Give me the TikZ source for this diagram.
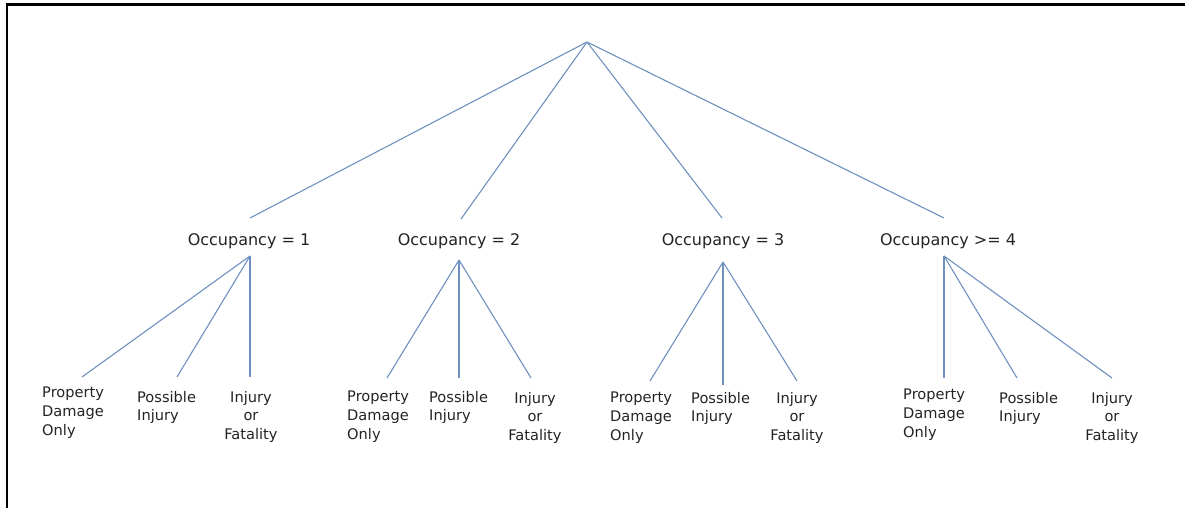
\documentclass[tikz,border=0pt]{standalone}
\usepackage{fontspec}
\setmainfont{DejaVu Sans}
\definecolor{linec}{RGB}{110,145,190}
\definecolor{txt}{RGB}{35,35,35}
\begin{document}
\begin{tikzpicture}[x=1pt,y=-1pt,
  branch/.style={draw=linec, line width=1.1pt},
  occ/.style={font=\fontsize{16}{19}\selectfont, text=txt, inner sep=0pt, anchor=base},
  leafl/.style={font=\fontsize{14.6}{18.7}\selectfont, text=txt, inner sep=0pt, align=left, anchor=north west},
  leafc/.style={font=\fontsize{14.6}{18.7}\selectfont, text=txt, inner sep=0pt, align=center, anchor=north},
  frame/.style={draw=black, line width=2.2pt}]
\useasboundingbox (0,0) rectangle (1185,508);
\draw[frame] (7,510) -- (7,4.5) -- (1187,4.5);

% apex points
\coordinate (root) at (587,42);
\coordinate (o1t) at (250,218);
\coordinate (o2t) at (461,219);
\coordinate (o3t) at (722,218);
\coordinate (o4t) at (944,218);
\coordinate (o1b) at (250,256);
\coordinate (o2b) at (459,260);
\coordinate (o3b) at (723,262);
\coordinate (o4b) at (944,256);
% leaf ends
\coordinate (a1) at (82,377);
\coordinate (a2) at (177,377);
\coordinate (a3) at (250,377);
\coordinate (b1) at (387,378);
\coordinate (b2) at (459,378);
\coordinate (b3) at (531,378);
\coordinate (c1) at (650,381);
\coordinate (c2) at (723,385);
\coordinate (c3) at (797,381);
\coordinate (d1) at (944,378);
\coordinate (d2) at (1017,378);
\coordinate (d3) at (1112,378);

% labels
\node[occ] (occ1) at (249,245) {Occupancy = 1};
\node[occ] (occ2) at (459,245) {Occupancy = 2};
\node[occ] (occ3) at (723,245) {Occupancy = 3};
\node[occ] (occ4) at (948,245) {Occupancy >= 4};

\node[leafl] (l1a) at (42,387) {Property\\Damage\\Only};
\node[leafl] (l1b) at (137,391) {Possible\\Injury};
\node[leafc] (l1c) at (251,391) {Injury\\or\\Fatality};
\node[leafl] (l2a) at (347,391) {Property\\Damage\\Only};
\node[leafl] (l2b) at (429,391) {Possible\\Injury};
\node[leafc] (l2c) at (535,392) {Injury\\or\\Fatality};
\node[leafl] (l3a) at (610,392) {Property\\Damage\\Only};
\node[leafl] (l3b) at (691,392) {Possible\\Injury};
\node[leafc] (l3c) at (797,392) {Injury\\or\\Fatality};
\node[leafl] (l4a) at (903,389) {Property\\Damage\\Only};
\node[leafl] (l4b) at (999,392) {Possible\\Injury};
\node[leafc] (l4c) at (1112,392) {Injury\\or\\Fatality};

% connectors
\draw[branch] (root) -- (o1t);
\draw[branch] (root) -- (o2t);
\draw[branch] (root) -- (o3t);
\draw[branch] (root) -- (o4t);
\draw[branch] (o1b) -- (a1);
\draw[branch] (o1b) -- (a2);
\draw[branch] (o1b) -- (a3);
\draw[branch] (o2b) -- (b1);
\draw[branch] (o2b) -- (b2);
\draw[branch] (o2b) -- (b3);
\draw[branch] (o3b) -- (c1);
\draw[branch] (o3b) -- (c2);
\draw[branch] (o3b) -- (c3);
\draw[branch] (o4b) -- (d1);
\draw[branch] (o4b) -- (d2);
\draw[branch] (o4b) -- (d3);
\end{tikzpicture}
\end{document}
